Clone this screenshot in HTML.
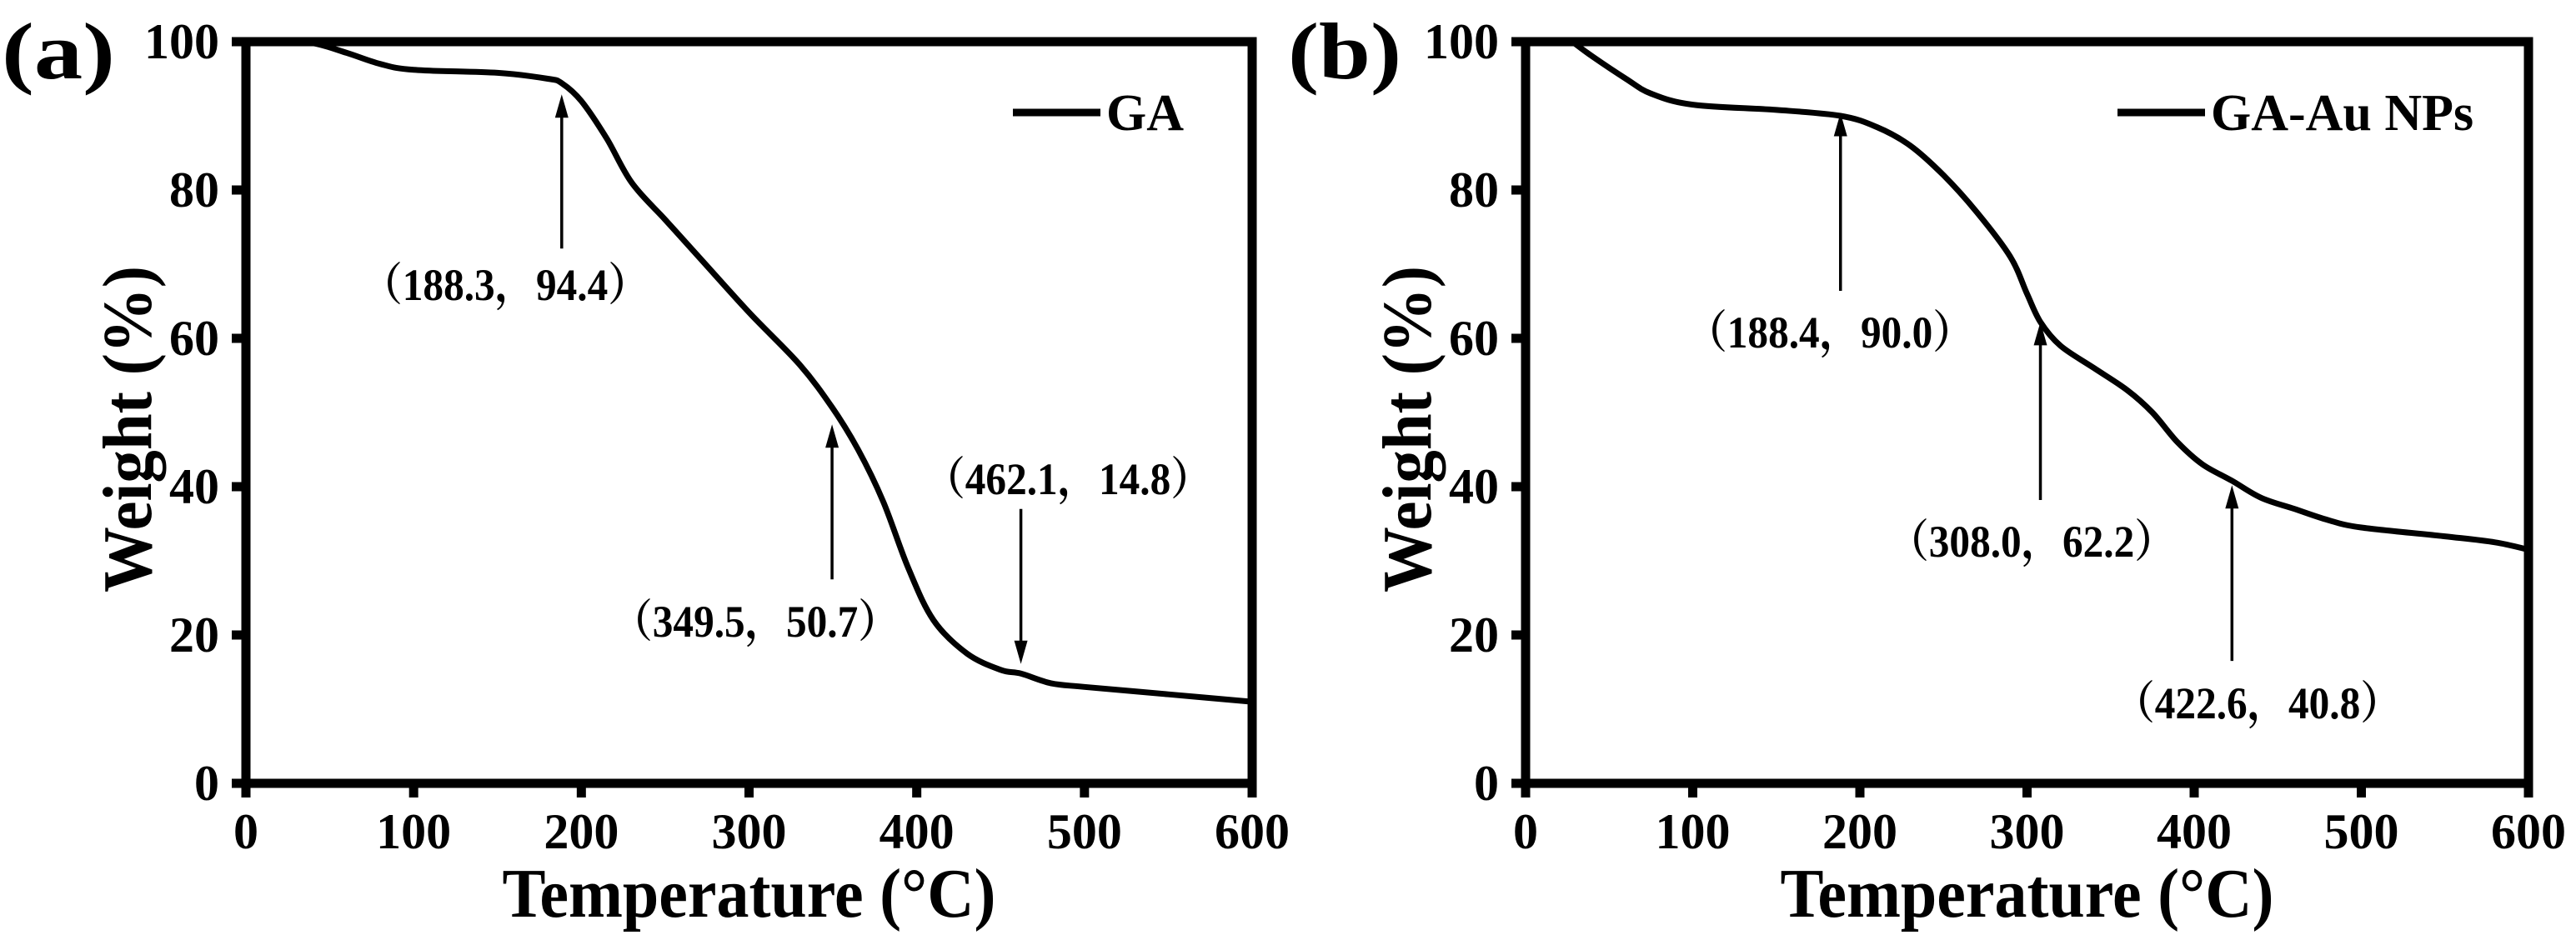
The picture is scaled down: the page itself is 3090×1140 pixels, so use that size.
<!DOCTYPE html>
<html><head><meta charset="utf-8"><style>
html,body{margin:0;padding:0;background:#fff;}
svg{display:block;}
text{font-family:"Liberation Serif","Noto Serif CJK SC",serif;font-weight:bold;fill:#000;}
</style></head><body>
<svg id="fig" width="3090" height="1140" viewBox="0 0 3090 1140" xmlns="http://www.w3.org/2000/svg"></svg>
<script>
const xTicks=[0,100,200,300,400,500,600];
const yTicks=[0,20,40,60,80,100];
const gaTemp=[0,20,40,60,80,100,150,180,188.3,200,215,230,250,270,300,330,349.5,365,380,395,410,430,450,462.1,480,500,550,600];
const gaWeight=[100,100,99.8,98.5,97,96.2,95.8,95,94.4,92,87,81,76,71,63.5,56.5,50.7,45,38,29,22,17.5,15.3,14.8,13.5,13,12,11];
const auTemp=[28,40,60,75,100,150,188.4,210,230,250,270,290,300,308,320,340,360,375,390,405,422.6,440,460,480,500,550,580,600];
const auWeight=[100,98,95,93,91.5,90.8,90,88.5,86,82,77,71,66,62.2,59,56,53,50,46,43,40.8,38.5,37,35.5,34.5,33.3,32.5,31.5];
const gaAnnX=[188.3,349.5,462.1];
const gaAnnTip=[92.9,48.4,16.1];
const gaAnnTail=[72.1,27.5,37];
const gaAnnLabel=["（188.3，94.4）","（349.5，50.7）","（462.1，14.8）"];
const gaAnnTextY=[342,746,575];
const gaAnnTextX=[606,906,1281];
const auAnnX=[188.4,308.0,422.6];
const auAnnTip=[90.4,62.2,40.2];
const auAnnTail=[66.4,38.2,16.5];
const auAnnLabel=["（188.4，90.0）","（308.0，62.2）","（422.6，40.8）"];
const auAnnTextY=[399,650,844];
const auAnnTextX=[2195,2437,2708];

const NS="http://www.w3.org/2000/svg";
const svg=document.getElementById('fig');
function el(tag,attrs,parent){const e=document.createElementNS(NS,tag);for(const k in attrs)e.setAttribute(k,attrs[k]);(parent||svg).appendChild(e);return e;}

function smoothPath(pts){
  let d='M'+pts[0][0].toFixed(1)+' '+pts[0][1].toFixed(1);
  for(let i=0;i<pts.length-1;i++){
    const p0=pts[Math.max(0,i-1)],p1=pts[i],p2=pts[i+1],p3=pts[Math.min(pts.length-1,i+2)];
    const c1x=p1[0]+(p2[0]-p0[0])/6,c1y=p1[1]+(p2[1]-p0[1])/6;
    const c2x=p2[0]-(p3[0]-p1[0])/6,c2y=p2[1]-(p3[1]-p1[1])/6;
    d+=`C${c1x.toFixed(1)} ${c1y.toFixed(1)} ${c2x.toFixed(1)} ${c2y.toFixed(1)} ${p2[0].toFixed(1)} ${p2[1].toFixed(1)}`;
  }
  return d;
}

function panel(o){
  const g=el('g',{});
  
  
  const X=v=>o.x0+(v-0)/600*(o.x1-o.x0);
  const Y=v=>o.y0-(v-0)/100*(o.y0-o.y1);
  const pts=o.tx.map((t,i)=>[X(t),Y(o.wy[i])]);
  const p=el('path',{d:smoothPath(pts),fill:'none',stroke:'#000','stroke-width':7,'stroke-linejoin':'round','stroke-linecap':'round'},g);
  
  
  const box=el('rect',{x:o.x0,y:o.y1,width:o.x1-o.x0,height:o.y0-o.y1,fill:'none',stroke:'#000','stroke-width':11},g);
  
  
  xTicks.forEach(t=>{
    el('line',{x1:X(t),x2:X(t),y1:o.y0,y2:o.y0+17,stroke:'#000','stroke-width':11},g);
    const tx=el('text',{x:X(t),y:1018,'font-size':60,'text-anchor':'middle'},g);
    tx.textContent=t;
    
    
  });
  yTicks.forEach(t=>{
    el('line',{x1:o.x0-17,x2:o.x0,y1:Y(t),y2:Y(t),stroke:'#000','stroke-width':11},g);
    const ty=el('text',{x:o.x0-32,y:Y(t)+20,'font-size':60,'text-anchor':'end'},g);
    ty.textContent=t;
    
    
  });
  const xt=el('text',{x:(o.x0+o.x1)/2,y:1100,'font-size':84,'text-anchor':'middle',textLength:592,lengthAdjust:'spacingAndGlyphs'},g);
  xt.textContent='Temperature (°C)';
  
  
  const yx=o.x0-142;
  const yt=el('text',{x:yx,y:515,'font-size':84,'text-anchor':'middle',transform:'rotate(-90 '+yx+' 515)',textLength:392,lengthAdjust:'spacingAndGlyphs',dy:28},g);
  yt.textContent='Weight (%)';
  
  
  const pl=el('text',{x:o.labelX,y:94,'font-size':96,textLength:136,lengthAdjust:'spacingAndGlyphs'},g);
  pl.textContent=o.label;
  
  
  el('line',{x1:o.legX,x2:o.legX+105,y1:135,y2:135,stroke:'#000','stroke-width':9},g);
  const lt=el('text',{x:o.legX+112,y:156,'font-size':62},g);
  lt.textContent=o.series;
  
  
  o.annX.forEach((ax,i)=>{
    const xx=X(ax), tip=Y(o.annTip[i]), tail=Y(o.annTail[i]);
    const dir=tail>tip?1:-1;
    el('line',{x1:xx,x2:xx,y1:tail,y2:tip+dir*22,stroke:'#000','stroke-width':3.5},g);
    const ah=el('polygon',{points:`${xx},${tip} ${xx-8},${tip+dir*28} ${xx+8},${tip+dir*28}`,fill:'#000'},g);
    
    
    const at=el('text',{x:o.annTextX[i],y:o.annTextY[i]+18,'font-size':54,'text-anchor':'middle',textLength:345,lengthAdjust:'spacingAndGlyphs'},g);
    at.textContent=o.annLabel[i];
    
    
  });
}
panel({name:'panel-a-ga',label:'(a)',labelX:2,series:'GA',x0:295,x1:1502,y0:940,y1:50,tx:gaTemp,wy:gaWeight,legX:1215,
  annX:gaAnnX,annTip:gaAnnTip,annTail:gaAnnTail,annLabel:gaAnnLabel,annTextX:gaAnnTextX,annTextY:gaAnnTextY});
panel({name:'panel-b-ga-au',label:'(b)',labelX:1545,series:'GA-Au NPs',x0:1830,x1:3033,y0:940,y1:50,tx:auTemp,wy:auWeight,legX:2540,
  annX:auAnnX,annTip:auAnnTip,annTail:auAnnTail,annLabel:auAnnLabel,annTextX:auAnnTextX,annTextY:auAnnTextY});
</script>
</body></html>
